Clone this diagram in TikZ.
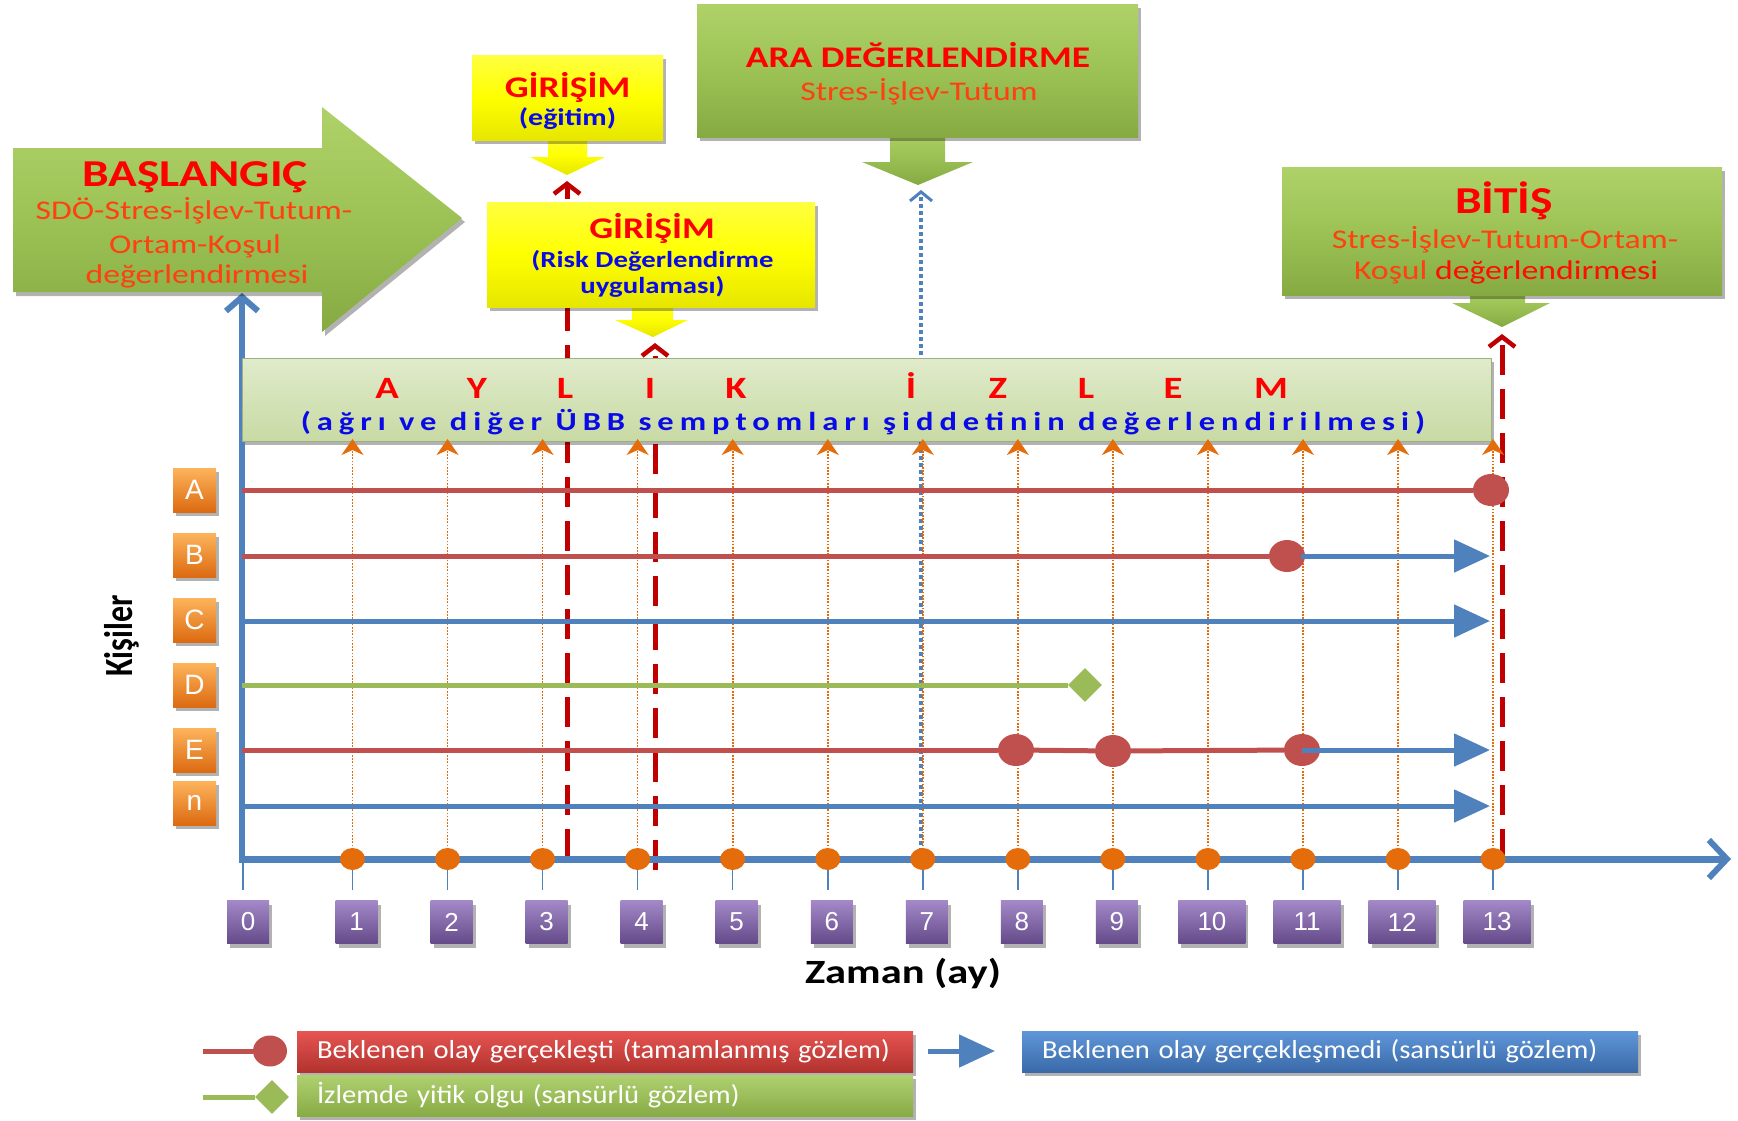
\documentclass[tikz,border=0pt]{standalone}
\usepackage{fontspec}
\setmainfont{Carlito}[FakeStretch=1.25]
\newfontfamily\legfont{Carlito}[FakeStretch=1.1]
\newfontfamily\arialf{Liberation Sans}
\newfontfamily\bandfont{Carlito}[FakeStretch=1.25,LetterSpace=23]
\newfontfamily\kfont{Carlito}
\usetikzlibrary{shadows,arrows.meta,shapes.geometric}
\definecolor{tred}{HTML}{FF0000}
\definecolor{tsub}{HTML}{FF4010}
\definecolor{tblue}{HTML}{0A0AE6}
\definecolor{dred}{HTML}{C00000}
\definecolor{lred}{HTML}{C0504D}
\definecolor{lblue}{HTML}{4F81BD}
\definecolor{lgreen}{HTML}{9BBB59}
\definecolor{orng}{HTML}{E46C0A}
\definecolor{grT}{HTML}{AFD268}
\definecolor{grM}{HTML}{9CC255}
\definecolor{grB}{HTML}{86AA42}
\definecolor{ylT}{HTML}{FFFF40}
\definecolor{ylM}{HTML}{FFFF00}
\definecolor{ylB}{HTML}{E6E600}
\definecolor{bdT}{HTML}{E0EBCB}
\definecolor{bdB}{HTML}{C8DAA4}
\definecolor{puT}{HTML}{A389C8}
\definecolor{puB}{HTML}{654A8A}
\definecolor{orT}{HTML}{FDB45C}
\definecolor{orB}{HTML}{DC6A10}
\definecolor{rdT}{HTML}{E65552}
\definecolor{rdB}{HTML}{B2322E}
\definecolor{blT}{HTML}{5F97D9}
\definecolor{blB}{HTML}{3A69A8}
\definecolor{lgT}{HTML}{B0D070}
\definecolor{lgB}{HTML}{87AB45}
\newcommand{\fsz}[1]{\fontsize{#1}{#1}\selectfont}
\begin{document}
\begin{tikzpicture}[x=1pt,y=-1pt,
  shd/.style={drop shadow={shadow xshift=3pt,shadow yshift=-4pt,opacity=0.3,fill=black}},
  greenshade/.style={top color=grT,bottom color=grB,middle color=grM},
  yelshade/.style={top color=ylT,bottom color=ylB,middle color=ylM},
  ttl/.style={anchor=base,inner sep=0pt,text=tred,font=\fsz{38}\bfseries},
  subt/.style={anchor=base,inner sep=0pt,text=tsub,font=\fsz{27}},
  ybl/.style={anchor=base,inner sep=0pt,text=tblue,font=\fsz{23}\bfseries},
  numbox/.style={rectangle,inner sep=0pt,minimum height=43pt,top color=puT,bottom color=puB,text=white,font=\arialf\fsz{26},shd},
  perbox/.style={rectangle,inner sep=0pt,minimum width=43pt,minimum height=44pt,top color=orT,bottom color=orB,text=white,font=\arialf\fsz{28},shd},
  evt/.style={ellipse,inner sep=0pt,minimum width=36pt,minimum height=32pt,fill=lred},
  lost/.style={diamond,inner sep=0pt,minimum width=34pt,minimum height=34pt,fill=lgreen},
  odot/.style={ellipse,inner sep=0pt,minimum width=25pt,minimum height=22pt,fill=orng},
  redl/.style={lred,line width=5pt},
  greenl/.style={lgreen,line width=5pt},
  censor/.style={lblue,line width=5pt,-{Triangle[length=36pt,width=32pt]}},
  rdash/.style={dred,line width=5pt,dash pattern=on 30pt off 14pt,-{Straight Barb[length=10pt,width=26pt,line width=4.5pt]}},
  bdot/.style={lblue,line width=4pt,dash pattern=on 4pt off 3pt,-{Straight Barb[length=9pt,width=22pt,line width=3pt]}},
  odash/.style={orng,line width=1.6pt,dash pattern=on 1.6pt off 1.6pt,-{Stealth[length=16pt,width=22pt,inset=5pt]}},
  tickl/.style={lblue,line width=1.5pt},
  legbox/.style={rectangle,inner ysep=0pt,inner xsep=20pt,minimum width=616pt,minimum height=41pt,text width=576pt,align=left,text=white,font=\legfont\fsz{26},shd}
]
\useasboundingbox (0,0) rectangle (1738,1120);
\fill[white] (0,0) rectangle (1738,1120);

% coordinates of the months
\coordinate (ax0) at (243,859);
\coordinate (tk0) at (243,890);
\foreach \k in {1,...,13}{
  \pgfmathsetmacro\xx{352.5+95.05*(\k-1)}
  \coordinate (ax\k) at (\xx,859);
  \coordinate (bt\k) at (\xx,439);
  \coordinate (tk\k) at (\xx,890);
}

% vertical dashed / dotted markers (under the band)
\coordinate (r1b) at (567,859);  \coordinate (r1t) at (567,181);
\coordinate (r2b) at (655,870);  \coordinate (r2t) at (655,343);
\coordinate (r3b) at (1502,859); \coordinate (r3t) at (1502,334);
\coordinate (b7b) at (921,859);  \coordinate (b7t) at (921,190);
\draw[rdash] (r1b) -- (r1t);
\draw[rdash] (r2b) -- (r2t);
\draw[rdash] (r3b) -- (r3t);
\draw[bdot] (b7b) -- (b7t);

% vertical axis
\coordinate (v0) at (242,862); \coordinate (v1) at (242,293);
\draw[lblue,line width=6pt,-{Straight Barb[length=14pt,width=32pt,line width=6pt]}] (v0) -- (v1);

% ticks
\foreach \k in {0,...,13}{ \draw[tickl] (ax\k) -- (tk\k); }

% monitoring band
\node[rectangle,inner sep=0pt,minimum width=1249pt,minimum height=83pt,top color=bdT,bottom color=bdB,draw=bdB!80!black,line width=0.6pt,shd] (band) at (866.5,399.5) {};
\foreach \x/\l [count=\i] in {387/A,477/Y,565/L,650/I,736/K,911/İ,998/Z,1086/L,1173/E,1271/M}{
  \node[anchor=base,inner sep=0pt,text=tred,font=\fsz{31}\bfseries] (lt\i) at (\x,398) {\l};
}
\node[anchor=base,inner sep=0pt,text=tblue,font=\bandfont\fsz{26}\bfseries] (bandtxt) at (863,430) {(ağrı ve diğer ÜBB semptomları şiddetinin değerlendirilmesi)};

% orange dotted arrows
\foreach \k in {1,...,13}{ \draw[odash] (ax\k) -- (bt\k); }

% horizontal axis
\coordinate (h0) at (239,859); \coordinate (h1) at (1731,859);
\draw[lblue,line width=7pt,-{Straight Barb[length=18pt,width=38pt,line width=6pt]}] (h0) -- (h1);
\foreach \k in {1,...,13}{ \node[odot] (od\k) at (ax\k) {}; }

% number boxes
\node[numbox,minimum width=42pt] (n0) at (248,922) {0};
\foreach \k in {1,...,13}{
  \pgfmathsetmacro\xx{356.5+95.05*(\k-1)}
  \pgfmathsetmacro\ww{\k>9 ? 67 : 42}
  \node[numbox,minimum width=\ww pt] (n\k) at (\xx,922) {\k};
}

% persons
\node[perbox] (pA) at (194.5,490) {A};
\node[perbox] (pB) at (194.5,555) {B};
\node[perbox] (pC) at (194.5,620) {C};
\node[perbox] (pD) at (194.5,685) {D};
\node[perbox] (pE) at (194.5,750) {E};
\node[perbox] (pn) at (194.5,803) {n};

% person A
\coordinate (A0) at (242,490);
\node[evt] (Aev) at (1491,490) {};
\draw[redl] (A0) -- (Aev);
% person B
\coordinate (B0) at (242,556);
\node[evt] (Bev) at (1287,556) {};
\draw[redl] (B0) -- (Bev);
\coordinate (B1) at (1301,556); \coordinate (B2) at (1490,556);
\draw[censor] (B1) -- (B2);
% person C
\coordinate (C0) at (242,621); \coordinate (C1) at (1490,621);
\draw[censor] (C0) -- (C1);
% person D
\coordinate (D0) at (242,685);
\node[lost] (Dlo) at (1085,685) {};
\draw[greenl] (D0) -- (Dlo);
% person E
\coordinate (E0) at (242,750);
\node[evt] (Eev1) at (1016,750) {};
\node[evt] (Eev2) at (1113,751) {};
\node[evt] (Eev3) at (1302,750) {};
\draw[redl] (E0) -- (Eev1);
\draw[redl] (Eev1) -- (Eev2);
\draw[redl] (Eev2) -- (Eev3);
\coordinate (E2) at (1490,750);
\draw[censor] (Eev3.center) -- (E2);
% person n
\coordinate (N0) at (242,806); \coordinate (N1) at (1490,806);
\draw[censor] (N0) -- (N1);

% axis titles
\node[rotate=90,inner sep=0pt,font=\kfont\fsz{32}\bfseries] (kis) at (122,636) {\scalebox{1}[1.25]{Kişiler}};
\node[anchor=base,inner sep=0pt,font=\fsz{34}\bfseries] (zaman) at (903,983) {Zaman (ay)};

% BAŞLANGIÇ arrow
\path[greenshade,shd] (13,148) -- (322,148) -- (322,107) -- (462,218) -- (322,332) -- (322,292) -- (13,292) -- cycle;
\node[ttl] (bas1) at (195,186) {BAŞLANGIÇ};
\node[subt] (bas2) at (194,219) {SDÖ-Stres-İşlev-Tutum-};
\node[subt] (bas3) at (195,253) {Ortam-Koşul};
\node[subt] (bas4) at (197,283) {değerlendirmesi};

% GİRİŞİM (eğitim)
\path[yelshade] (548,135) -- (587,135) -- (587,157) -- (605,157) -- (567,175) -- (530,157) -- (548,157) -- cycle;
\node[rectangle,inner sep=0pt,minimum width=191pt,minimum height=85pt,yelshade,shd] (y1) at (567.5,97.5) {};
\node[ttl,font=\fsz{30}\bfseries] (y1t) at (567.5,97) {GİRİŞİM};
\node[ybl,font=\fsz{24}\bfseries] (y1s) at (567.5,125) {(eğitim)};

% GİRİŞİM (Risk Değerlendirme uygulaması)
\path[yelshade] (632,300) -- (673,300) -- (673,320) -- (688,320) -- (653,337) -- (615,320) -- (632,320) -- cycle;
\node[rectangle,inner sep=0pt,minimum width=328pt,minimum height=105pt,yelshade,shd] (y2) at (651,254.5) {};
\node[ttl,font=\fsz{30}\bfseries] (y2t) at (652,238) {GİRİŞİM};
\node[ybl] (y2s1) at (652.5,267) {(Risk Değerlendirme};
\node[ybl] (y2s2) at (652.5,293) {uygulaması)};

% ARA DEĞERLENDİRME
\path[greenshade] (890,125) -- (945,125) -- (945,162) -- (973,162) -- (918,185) -- (862,162) -- (890,162) -- cycle;
\node[rectangle,inner sep=0pt,minimum width=441pt,minimum height=133pt,greenshade,shd] (ara) at (917.5,70.5) {};
\node[ttl,font=\fsz{30}\bfseries] (arat) at (918,67) {ARA DEĞERLENDİRME};
\node[subt] (aras) at (919,100) {Stres-İşlev-Tutum};

% BİTİŞ
\path[greenshade] (1470,285) -- (1525,285) -- (1525,303) -- (1550,303) -- (1502,327) -- (1452,303) -- (1470,303) -- cycle;
\node[rectangle,inner sep=0pt,minimum width=440pt,minimum height=128pt,greenshade,shd] (bit) at (1502,231) {};
\node[ttl] (bitt) at (1504,213) {BİTİŞ};
\node[subt] (bits1) at (1505,248) {Stres-İşlev-Tutum-Ortam-};
\node[subt] (bits2) at (1506,279) {Koşul \textcolor{red!90!orange}{değerlendirmesi}};

% legend
\coordinate (lg1a) at (203,1051);
\node[evt,minimum width=34pt,minimum height=31pt] (lg1e) at (270,1051) {};
\draw[redl] (lg1a) -- (lg1e);
\coordinate (lg2a) at (203,1097);
\node[lost] (lg2d) at (272,1097) {};
\draw[greenl] (lg2a) -- (lg2d);
\coordinate (lg3a) at (928,1051); \coordinate (lg3b) at (995,1051);
\draw[censor] (lg3a) -- (lg3b);
\node[legbox,top color=rdT,bottom color=rdB] (legR) at (605,1051.5) {Beklenen olay gerçekleşti (tamamlanmış gözlem)};
\node[legbox,top color=lgT,bottom color=lgB] (legG) at (605,1095.5) {İzlemde yitik olgu (sansürlü gözlem)};
\node[legbox,top color=blT,bottom color=blB] (legB) at (1330,1051.5) {Beklenen olay gerçekleşmedi (sansürlü gözlem)};
\end{tikzpicture}
\end{document}
